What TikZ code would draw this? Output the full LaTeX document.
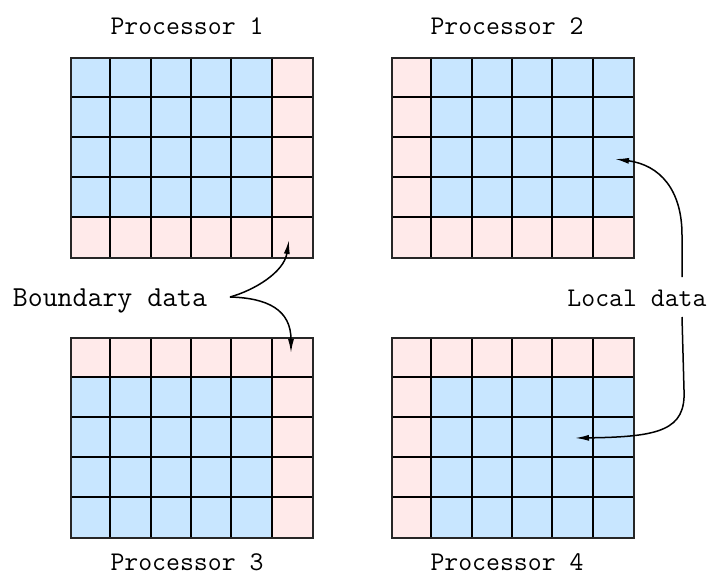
\documentclass[tikz,border=0pt]{standalone}
\usetikzlibrary{arrows.meta}
\definecolor{localblue}{RGB}{200,230,255}
\definecolor{boundpink}{RGB}{255,234,234}
\tikzset{
  label/.style={font=\ttfamily\fontsize{27}{30}\selectfont, inner sep=0pt, text depth=0pt},
  gridline/.style={draw=black, line width=1.8pt},
  outline/.style={draw=black!85, line width=2pt},
  arr/.style={draw=black, line width=1.5pt, -{Latex[length=14pt,width=6pt]}},
}
% \procgrid{name}{x}{y}{pink column x}{pink row y}
\newcommand\procgrid[5]{%
  \fill[localblue] (#2,#3) rectangle ++(242,200);
  \fill[boundpink] (#4,#3) rectangle ++(40.33,200);
  \fill[boundpink] (#2,#5) rectangle ++(242,40);
  \foreach \i in {1,...,5}{\draw[gridline] (#2+\i*40.33,#3) -- ++(0,200);}
  \foreach \j in {1,...,4}{\draw[gridline] (#2,#3+\j*40) -- ++(242,0);}
  \node[outline, minimum width=242pt, minimum height=200pt, inner sep=0pt, anchor=north west] (#1) at (#2,#3) {};
}
\begin{document}
\begin{tikzpicture}[x=1pt, y=-1pt]
\useasboundingbox (0,0) rectangle (707,578);

\procgrid{p1}{70}{57}{271.67}{217}
\procgrid{p2}{391}{57}{391}{217}
\procgrid{p3}{70}{337}{271.67}{337}
\procgrid{p4}{391}{337}{391}{337}

\node[label, anchor=base] (t1) at (187,35) {Processor 1};
\node[label, anchor=base] (t2) at (507,35) {Processor 2};
\node[label, anchor=base] (t3) at (187,570) {Processor 3};
\node[label, anchor=base] (t4) at (507,570) {Processor 4};

\node[label, anchor=base, font=\ttfamily\fontsize{29}{32}\selectfont] (bd) at (110,306) {Boundary data};
\node[label, anchor=base] (ld) at (637,306) {Local data};

\coordinate (bstart) at (230,297);
\coordinate (btip1) at (289,240);
\coordinate (btip3) at (291,353);
\coordinate (lstart2) at (682,277);
\coordinate (lstart4) at (682,317);
\coordinate (ltip2) at (615,159);
\coordinate (ltip4) at (575,438);

\draw[arr] (bstart) .. controls (255,290) and (284,272) .. (btip1);
\draw[arr] (bstart) .. controls (268,298) and (291,310) .. (btip3);
\draw[arr] (lstart2) -- (682,235) .. controls (682,190) and (660,165) .. (ltip2);
\draw[arr] (lstart4) -- (684,390) .. controls (686,430) and (660,437) .. (ltip4);
\end{tikzpicture}
\end{document}
